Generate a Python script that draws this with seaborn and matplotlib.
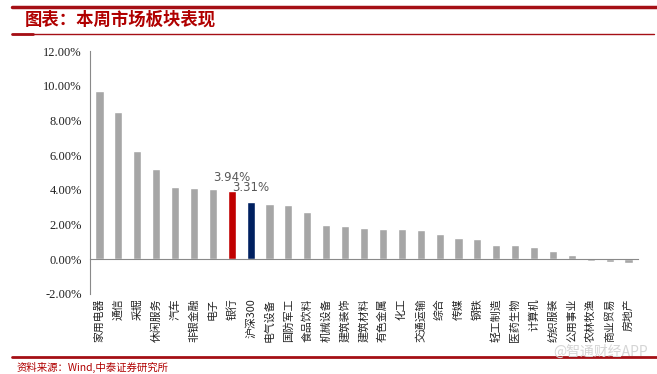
import matplotlib
matplotlib.use("Agg")
import matplotlib.pyplot as plt
from matplotlib.lines import Line2D
from matplotlib.ticker import FixedLocator
import seaborn as sns
import pandas as pd

sectors = ["家用电器", "通信", "采掘", "休闲服务", "汽车", "非银金融", "电子", "银行",
           "沪深300", "电气设备", "国防军工", "食品饮料", "机械设备", "建筑装饰", "建筑材料",
           "有色金属", "化工", "交通运输", "综合", "传媒", "钢铁", "轻工制造", "医药生物",
           "计算机", "纺织服装", "公用事业", "农林牧渔", "商业贸易", "房地产"]
weekly_pct = [9.68, 8.51, 6.22, 5.19, 4.18, 4.09, 4.04, 3.94,
              3.31, 3.17, 3.14, 2.74, 1.98, 1.93, 1.81,
              1.75, 1.72, 1.67, 1.47, 1.24, 1.19, 0.85, 0.80,
              0.68, 0.47, 0.23, -0.09, -0.13, -0.21]
labelled = ["银行", "沪深300"]
y_ticks = [-2, 0, 2, 4, 6, 8, 10, 12]

df = pd.DataFrame({"sector": sectors, "pct": weekly_pct})
palette = {s: "#A6A6A6" for s in sectors}
palette["银行"] = "#C00000"
palette["沪深300"] = "#002060"

sns.set_style("white")
plt.rcParams["font.family"] = ["Noto Sans CJK SC", "DejaVu Sans"]

fig = plt.figure(figsize=(6.57, 3.74), dpi=100)
ax = fig.add_axes([90 / 657, 80 / 374, 548 / 657, 243 / 374])

sns.barplot(data=df, x="sector", y="pct", hue="sector", palette=palette,
            width=0.43, legend=False, ax=ax, saturation=1)

ax.set_xlim(-0.5, len(sectors) - 0.5)
ax.set_ylim(-2, 12)
ax.set_yticks(y_ticks, labels=[f"{v:.2f}%" for v in y_ticks],
              fontfamily="Liberation Serif", fontsize=9, color="#222222")
ax.set_xlabel("")
ax.set_ylabel("")

# axes styling like the Excel original
for side in ["top", "right"]:
    ax.spines[side].set_visible(False)
ax.spines["left"].set_color("#898989")
ax.spines["bottom"].set_color("#898989")
ax.spines["bottom"].set_position(("data", 0))
ax.tick_params(axis="y", direction="out", length=4, color="#898989", pad=2)

ax.xaxis.set_minor_locator(FixedLocator([i + 0.5 for i in range(len(sectors) - 1)]))
ax.tick_params(axis="x", which="minor", direction="out", length=4, color="#898989")
ax.tick_params(axis="x", which="major", length=0, pad=28, labelsize=7.8, labelcolor="#222222")
ax.set_xticks(range(len(sectors)))
ax.set_xticklabels(sectors, rotation=90, va="top", ha="center")

for i, (s, v) in enumerate(zip(sectors, weekly_pct)):
    if s in labelled:
        ax.text(i, v + 0.8, f"{v:.2f}%", ha="center", va="center", fontsize=8.5,
                color="#595959", family="DejaVu Sans")

# report frame: red rules, title, source
red = "#A50F15"
fig.add_artist(Line2D([12 / 657, 1], [1 - 7 / 374] * 2, color=red, lw=2.5))
fig.add_artist(Line2D([12 / 657, 654 / 657], [1 - 34 / 374] * 2, color=red, lw=1))
fig.add_artist(Line2D([12 / 657, 33 / 657], [1 - 34 / 374] * 2, color=red, lw=2))
fig.add_artist(Line2D([12 / 657, 1], [1 - 357 / 374] * 2, color=red, lw=2))
fig.text(25 / 657, 1 - 20 / 374, "图表：本周市场板块表现", color="#B00000", fontsize=12.5,
         fontweight="bold", va="center", ha="left")
fig.text(17 / 657, 1 - 367 / 374, "资料来源：Wind,中泰证券研究所", color="#B00000",
         fontsize=7.5, va="center", ha="left")
fig.text(648 / 657, 1 - 352 / 374, "@智通财经APP", color="#D5D5D5", fontsize=10,
         va="center", ha="right")

fig.savefig("out.png", dpi=100)
